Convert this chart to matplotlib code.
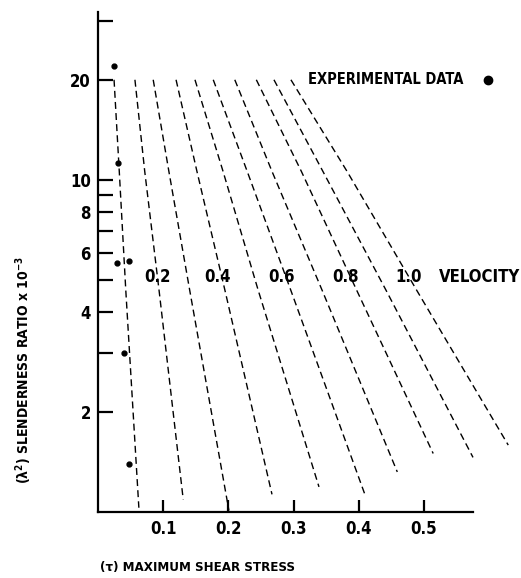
import matplotlib
matplotlib.use("Agg")
import matplotlib.pyplot as plt
from matplotlib.ticker import FixedLocator, NullLocator

plt.rcParams['font.family'] = ['DejaVu Sans']
plt.rcParams['font.stretch'] = 'condensed'
plt.rcParams['font.weight'] = 'bold'
plt.rcParams['mathtext.default'] = 'bf'

# velocity curves, x read at fixed slenderness levels
y_levels = [20.0, 10.6, 4.64]
x_at_20 = [0.025, 0.057, 0.085, 0.120, 0.149, 0.177, 0.210, 0.243, 0.270, 0.296]
x_at_10_6 = [0.033, 0.072, 0.109, 0.152, 0.192, 0.229, 0.267, 0.312, 0.345, 0.382]
x_at_4_64 = [0.043, 0.094, 0.141, 0.195, 0.246, 0.296, 0.344, 0.397, 0.442, 0.489]
x_end = [0.063, 0.131, 0.201, 0.267, 0.339, 0.410, 0.459, 0.514, 0.575, 0.629]
y_end = [1.03, 1.09, 1.01, 1.13, 1.19, 1.12, 1.32, 1.50, 1.46, 1.59]

velocity_labels = ['0.2', '0.4', '0.6', '0.8', '1.0']

# experimental points
exp_x = [0.025, 0.031, 0.030, 0.048, 0.040, 0.048]
exp_y = [22.0, 11.2, 5.6, 5.7, 3.0, 1.39]

x_ticks = [0.1, 0.2, 0.3, 0.4, 0.5]
y_ticks = [2, 3, 4, 5, 6, 7, 8, 9, 10, 20, 30]
y_ticklabels = ['2', '', '4', '', '6', '', '8', '', '10', '20', '']

fig = plt.figure(figsize=(5.21, 5.78), dpi=100)
ax = fig.add_axes([0.1876, 0.1142, 0.8017, 0.8651])
ax.set_yscale('log')

for i in range(len(x_end)):
    xs = [x_at_20[i], x_at_10_6[i], x_at_4_64[i], x_end[i]]
    ys = y_levels + [y_end[i]]
    ax.plot(xs, ys, color='black', lw=1.0, dashes=(5, 3))

ax.plot(exp_x, exp_y, 'o', color='black', ms=3.5)

# legend
ax.text(0.322, 20, 'EXPERIMENTAL DATA', fontsize=10.5, va='center', ha='left')
ax.plot([0.598], [20], 'o', color='black', ms=6, clip_on=False)

# velocity labels
for lx, lab in zip([0.092, 0.184, 0.281, 0.380, 0.477], velocity_labels):
    ax.text(lx, 5.1, lab, fontsize=12, ha='center', va='center')
ax.text(0.523, 5.1, 'VELOCITY', fontsize=12, ha='left', va='center')

ax.set_xlim(0, 0.64)
ax.set_ylim(1, 32)

for s in ['top', 'right']:
    ax.spines[s].set_visible(False)
ax.spines['left'].set_linewidth(1.6)
ax.spines['bottom'].set_linewidth(1.6)
ax.spines['bottom'].set_bounds(0, 0.575)

ax.xaxis.set_major_locator(FixedLocator(x_ticks))
ax.xaxis.set_minor_locator(NullLocator())
ax.set_xticklabels(['0.1', '0.2', '0.3', '0.4', '0.5'])
ax.yaxis.set_major_locator(FixedLocator(y_ticks))
ax.yaxis.set_minor_locator(NullLocator())
ax.set_yticklabels(y_ticklabels)
ax.tick_params(axis='both', direction='in', width=1.6, labelsize=12)
ax.tick_params(axis='y', length=11, pad=5)
ax.tick_params(axis='x', length=9, pad=6)

fig.text(0.192, 0.018, '(τ) MAXIMUM SHEAR STRESS', fontsize=9.5, ha='left', va='center')
fig.text(0.045, 0.36, '(λ$^2$) SLENDERNESS RATIO x 10$^{-3}$', fontsize=10,
         rotation=90, ha='center', va='center')

fig.savefig('out.png', dpi=100)
